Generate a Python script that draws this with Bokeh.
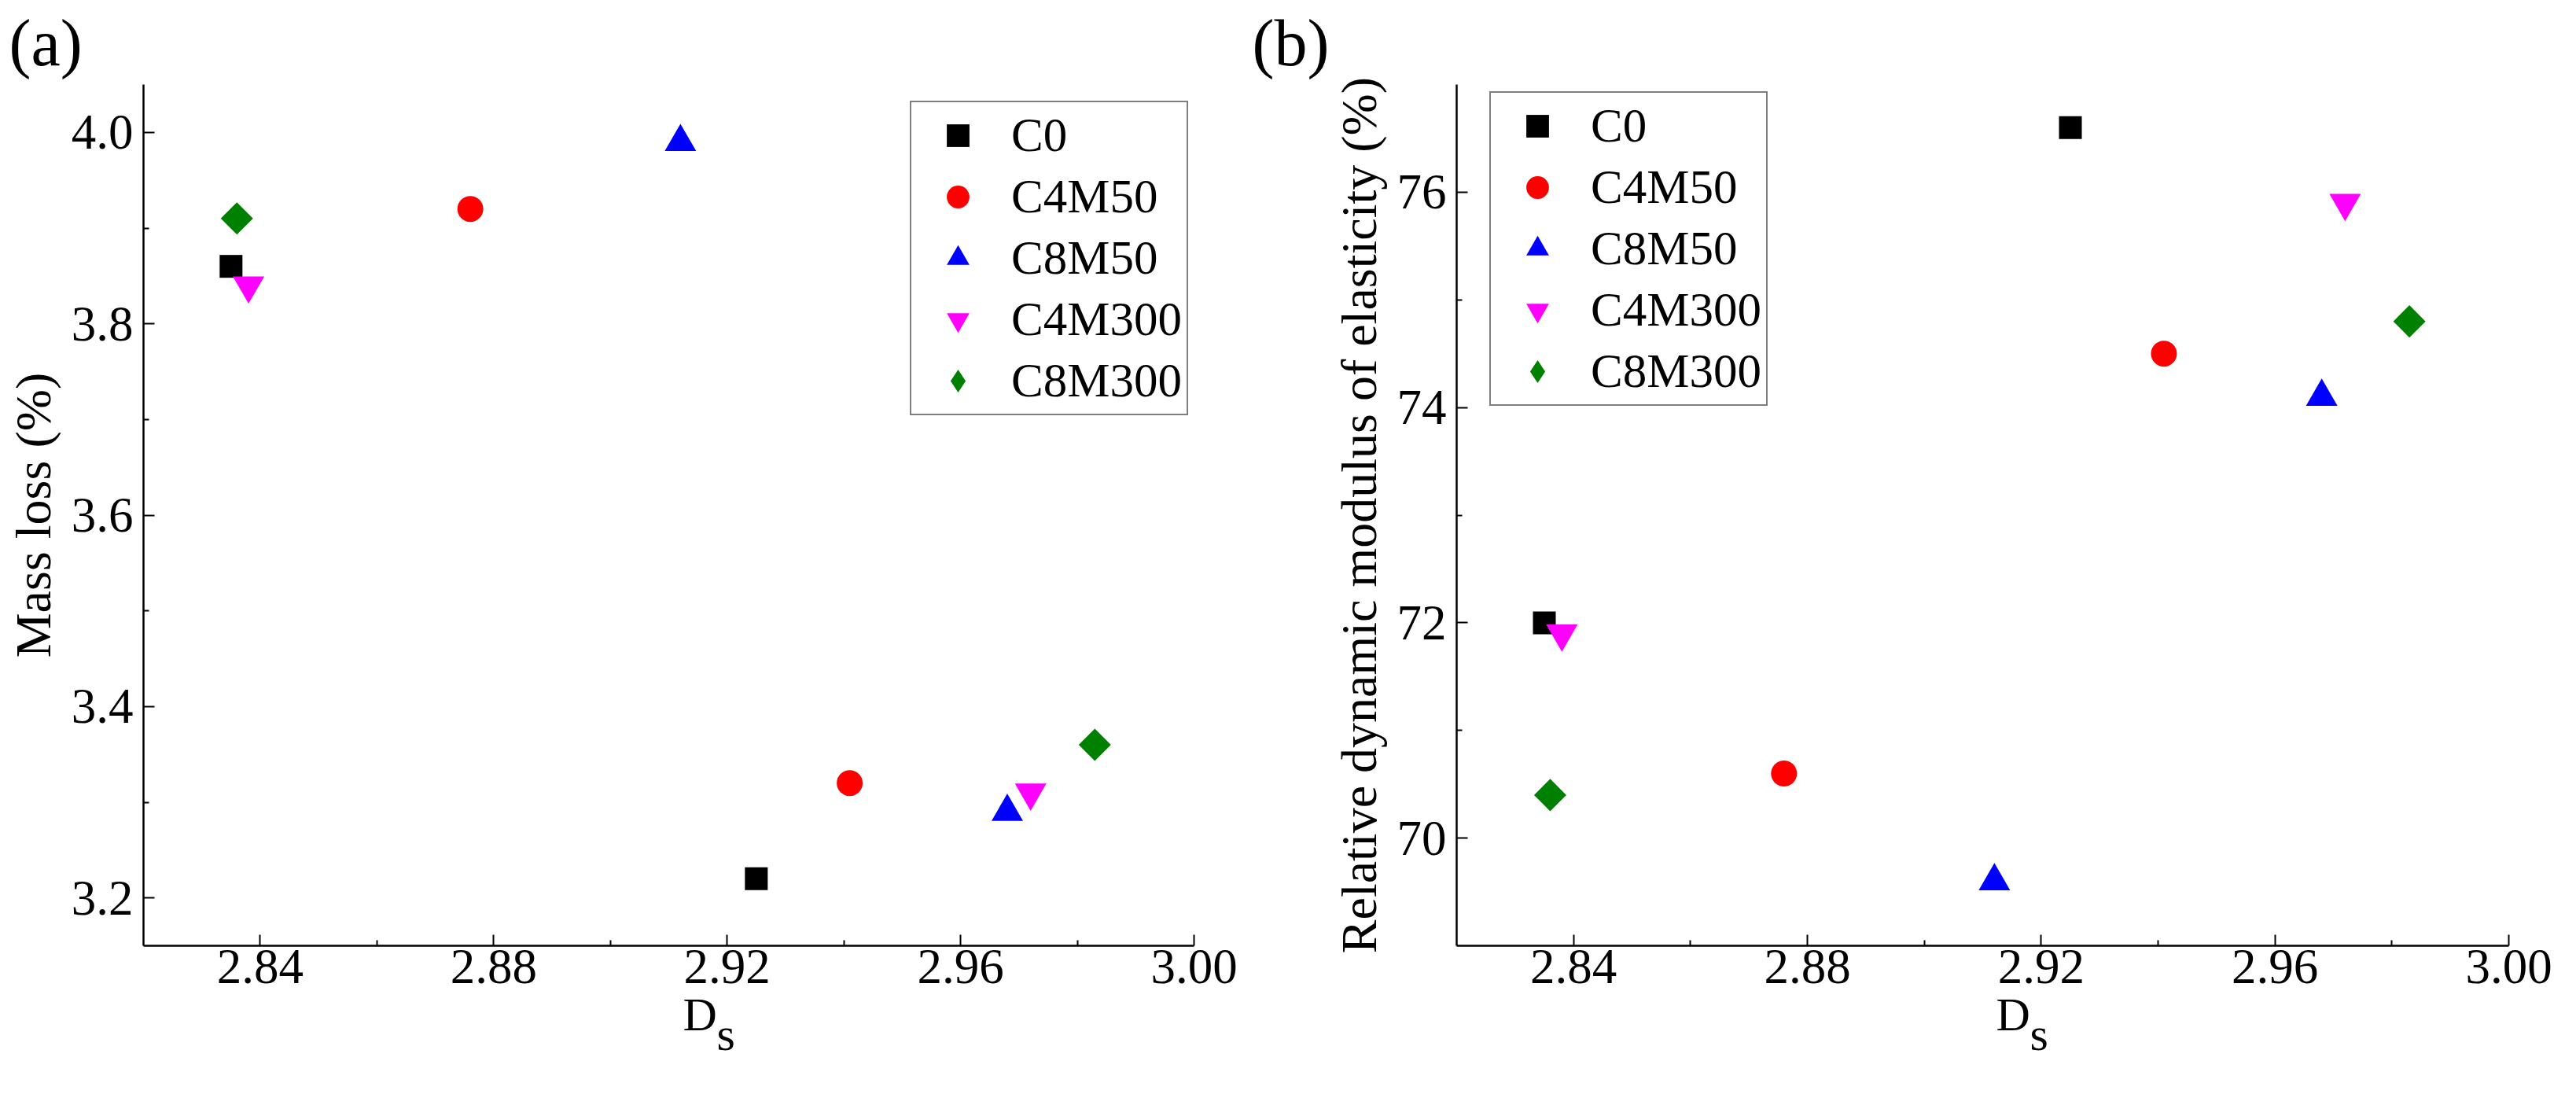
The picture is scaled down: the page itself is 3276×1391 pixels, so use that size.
from math import pi

from bokeh.plotting import figure
from bokeh.layouts import row
from bokeh.models import FixedTicker, PrintfTickFormatter, Title
from bokeh.embed import file_html
from bokeh.resources import INLINE

FONT = "Liberation Serif"

# groups, in legend order
SERIES = ["C0", "C4M50", "C8M50", "C4M300", "C8M300"]

# fractal dimension Ds of the two points of every group
DS_C0 = [2.835, 2.925]
DS_C4M50 = [2.876, 2.941]
DS_C8M50 = [2.912, 2.968]
DS_C4M300 = [2.838, 2.972]
DS_C8M300 = [2.836, 2.983]

# (a) mass loss (%)
ML_C0 = [3.86, 3.22]
ML_C4M50 = [3.92, 3.32]
ML_C8M50 = [3.99, 3.29]
ML_C4M300 = [3.84, 3.31]
ML_C8M300 = [3.91, 3.36]

# (b) relative dynamic modulus of elasticity (%)
RD_C0 = [72.0, 76.6]
RD_C4M50 = [70.6, 74.5]
RD_C8M50 = [69.6, 74.1]
RD_C4M300 = [71.9, 75.9]
RD_C8M300 = [70.4, 74.8]

X_TICKS = [2.84, 2.88, 2.92, 2.96, 3.00]
X_MINOR = [2.86, 2.90, 2.94, 2.98]
ML_TICKS = [3.2, 3.4, 3.6, 3.8, 4.0]
ML_MINOR = [3.3, 3.5, 3.7, 3.9]
RD_TICKS = [70, 72, 74, 76]
RD_MINOR = [71, 73, 75]

DS_ALL = [DS_C0, DS_C4M50, DS_C8M50, DS_C4M300, DS_C8M300]
ML_ALL = [ML_C0, ML_C4M50, ML_C8M50, ML_C4M300, ML_C8M300]
RD_ALL = [RD_C0, RD_C4M50, RD_C8M50, RD_C4M300, RD_C8M300]

# marker, colour, size, angle; the diamond is a turned square
STYLES = [
    ("square", "black", 29, 0),
    ("circle", "red", 33, 0),
    ("triangle", "blue", 40, 0),
    ("inverted_triangle", "magenta", 40, 0),
    ("square", "green", 29, pi / 4),
]


def text_title(text, size, align_v, offset, standoff):
    return Title(text=text, align="left", vertical_align=align_v, offset=offset,
                 standoff=standoff, text_font=FONT, text_font_size=size,
                 text_font_style="normal", text_color="black")


def panel(tag, tag_offset, ys, y_range, y_ticks, y_minor, y_fmt, y_label, legend_xy,
          width, b_left, b_right, b_top, b_bottom):
    p = figure(width=width, height=1375, x_range=(2.82, 3.00), y_range=y_range,
               output_backend="svg", toolbar_location=None,
               min_border_left=b_left, min_border_right=b_right,
               min_border_top=b_top, min_border_bottom=b_bottom)
    p.outline_line_color = None
    p.grid.grid_line_color = None
    p.background_fill_color = "white"
    p.border_fill_color = "white"

    for i, name in enumerate(SERIES):
        marker, color, size, angle = STYLES[i]
        if angle:
            p.scatter(DS_ALL[i], ys[i], marker=marker, size=size, angle=angle,
                      fill_color=color, line_color=color, line_width=0)
            # legend entry drawn as a diamond
            p.scatter(DS_ALL[i], ys[i], marker="diamond", size=size, fill_color=color,
                      line_color=color, line_width=0, legend_label=name, visible=False)
        else:
            p.scatter(DS_ALL[i], ys[i], marker=marker, size=size,
                      fill_color=color, line_color=color, line_width=0,
                      legend_label=name)

    p.xaxis.ticker = FixedTicker(ticks=X_TICKS, minor_ticks=X_MINOR)
    p.xaxis.formatter = PrintfTickFormatter(format="%.2f")
    p.yaxis.ticker = FixedTicker(ticks=y_ticks, minor_ticks=y_minor)
    p.yaxis.formatter = PrintfTickFormatter(format=y_fmt)
    p.yaxis.axis_label = y_label

    for ax in (p.xaxis[0], p.yaxis[0]):
        ax.axis_line_color = "black"
        ax.axis_line_width = 2.5
        ax.major_tick_in = 14
        ax.major_tick_out = 0
        ax.minor_tick_in = 7
        ax.minor_tick_out = 0
        ax.major_tick_line_width = 2
        ax.minor_tick_line_width = 2
        ax.major_tick_line_color = "black"
        ax.minor_tick_line_color = "black"
        ax.major_label_text_font = FONT
        ax.major_label_text_font_size = "63px"
        ax.major_label_text_color = "black"
        ax.axis_label_text_font = FONT
        ax.axis_label_text_font_size = "64px"
        ax.axis_label_text_font_style = "normal"
        ax.axis_label_text_color = "black"
    p.xaxis.major_label_standoff = 5
    p.yaxis.major_label_standoff = 13
    p.yaxis.axis_label_standoff = 10

    # panel tag above, x axis title D with a lowered s below
    p.add_layout(text_title(tag, "84px", "top", tag_offset, 9), "above")
    p.add_layout(text_title("D", "60px", "top", 686, 8), "below")
    p.add_layout(text_title("s", "60px", "top", 729, -93), "below")

    lg = p.legend[0]
    lg.location = legend_xy
    lg.margin = 0
    lg.padding = 6
    lg.spacing = 6
    lg.glyph_width = 106
    lg.glyph_height = 72
    lg.label_standoff = 15
    lg.label_height = 60
    lg.label_text_font = FONT
    lg.label_text_font_size = "61px"
    lg.label_text_color = "black"
    lg.border_line_color = "black"
    lg.border_line_width = 2
    lg.background_fill_color = "white"
    lg.background_fill_alpha = 1
    return p


pa = panel("(a)", -171, ML_ALL, (3.15, 4.05), ML_TICKS, ML_MINOR, "%.1f",
           "Mass loss (%)", (975, 674), 1580, 182, 62, 107, 170)
pb = panel("(b)", -260, RD_ALL, (69, 77), RD_TICKS, RD_MINOR, "%d",
           "Relative dynamic modulus of elasticity (%)", (42, 686), 1680, 272, 70, 102, 173)

p = row(pa, pb)
open("out.html", "w").write(file_html(p, INLINE))
